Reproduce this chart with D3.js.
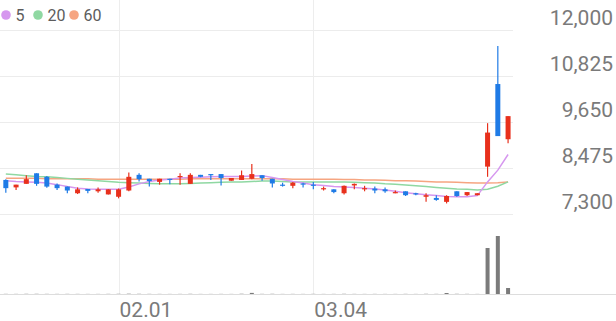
<!DOCTYPE html>
<html>
<head>
<meta charset="utf-8">
<script src="https://cdn.jsdelivr.net/npm/d3@7"></script>
<style>
  body { margin: 0; background: #fff; }
  svg { display: block; font-family: Roboto, "Noto Sans", sans-serif; }
</style>
</head>
<body>
<svg id="chart" width="616" height="321"></svg>
<script>
// trading days shown on the chart
const dates = [
  '01.17','01.18','01.19','01.22','01.23','01.24','01.25','01.26','01.29','01.30',
  '01.31','02.01','02.02','02.05','02.06','02.07','02.08','02.13','02.14','02.15',
  '02.16','02.19','02.20','02.21','02.22','02.23','02.26','02.27','02.28','02.29',
  '03.04','03.05','03.06','03.07','03.08','03.11','03.12','03.13','03.14','03.15',
  '03.18','03.19','03.20','03.21','03.22','03.25','03.26','03.27','03.28','03.29'
];

const open = [
  8170,7980,8070,8340,8250,8050,8000,7830,7940,7880,
  7800,7740,7900,8300,8200,8120,8200,8240,8070,8300,
  8320,8320,8150,8170,8200,8290,8200,8050,8020,8080,
  8050,7930,7930,7830,8030,7930,7950,7930,7830,7880,
  7830,7740,7710,7610,7880,7780,7780,8510,10620,9210
];
const high = [
  8190,8050,8290,8340,8270,8080,8000,7980,7940,7980,
  7930,7950,8360,8340,8200,8200,8200,8340,8340,8300,
  8320,8320,8220,8410,8580,8290,8200,8100,8120,8100,
  8120,8000,7930,8030,8080,8020,8000,7980,7900,7880,
  7840,7830,7780,7780,7880,7860,7830,9620,11590,9800
];
const low = [
  7840,7910,8070,8020,7970,7910,7830,7810,7830,7840,
  7800,7700,7880,8130,8000,8050,8060,8050,8070,8240,
  8170,8030,8150,8170,8190,8150,7980,8000,7960,7980,
  7930,7900,7830,7800,7930,7880,7830,7840,7830,7760,
  7780,7610,7640,7570,7740,7760,7780,8250,9290,9110
];
const close = [
  7960,8050,8190,8070,8000,7960,7900,7930,7890,7930,
  7930,7930,8250,8190,8140,8200,8190,8270,8300,8250,
  8290,8220,8220,8290,8320,8220,8080,8020,8100,8050,
  8020,7960,7860,8020,8070,7960,7900,7880,7860,7780,
  7800,7780,7660,7760,7760,7860,7830,9380,9290,9800
];
// volume, thousand shares
const volume = [
  15,12,20,20,15,12,15,12,10,10,
  15,20,30,20,15,12,10,12,20,10,
  10,12,10,25,110,15,20,10,12,10,
  15,10,12,20,12,10,12,10,10,15,
  10,20,15,100,20,15,10,4600,5800,600
];

// moving averages
const ma5 = [
  8150,8130,8120,8110,8090,8050,8000,7960,7940,7930,
  7930,7930,7990,8070,8130,8170,8190,8220,8230,8240,
  8250,8260,8260,8260,8270,8280,8230,8180,8130,8090,
  8050,8030,8000,7990,7980,7960,7940,7910,7880,7840,
  7820,7790,7770,7750,7740,7740,7770,8120,8420,8820
];
const ma20 = [
  8320,8300,8280,8260,8250,8230,8210,8190,8170,8150,
  8130,8110,8100,8090,8080,8070,8070,8070,8080,8090,
  8100,8110,8120,8120,8130,8140,8140,8130,8120,8120,
  8120,8120,8120,8120,8110,8100,8090,8070,8060,8040,
  8020,8000,7980,7960,7940,7930,7910,7930,8010,8120
];
const ma60 = [
  8210,8210,8210,8210,8200,8200,8200,8200,8200,8190,
  8190,8190,8190,8190,8190,8190,8190,8190,8200,8200,
  8200,8200,8200,8200,8200,8200,8200,8200,8190,8190,
  8190,8190,8190,8180,8180,8170,8170,8160,8150,8150,
  8140,8130,8120,8120,8110,8100,8090,8090,8100,8120
];

const priceTicks = [12000, 10825, 9650, 8475, 7300];
const dateTicks = ['02.01', '03.04'];
const legendItems = [
  { label: '5',  values: ma5,  colour: '#d697ef' },
  { label: '20', values: ma20, colour: '#8fd8a2' },
  { label: '60', values: ma60, colour: '#f6a581' }
];

const UP = '#e8301c';
const DOWN = '#1f7be6';

const svg = d3.select('#chart');
const plotRight = 513;

const x = d3.scaleBand().domain(dates).range([0.7, 513.2]);
const cx = d => x(d) + x.bandwidth() / 2;
const y = d3.scaleLinear().domain([7300, 12000]).range([214, 30]);
const yVol = d3.scaleLinear().domain([0, 8000]).range([294, 214]);

// grid
const grid = svg.append('g');
grid.selectAll('.hgrid').data(priceTicks).join('line')
  .attr('x1', 0).attr('x2', plotRight)
  .attr('y1', d => Math.round(y(d)) + 0.5).attr('y2', d => Math.round(y(d)) + 0.5)
  .attr('stroke', '#ececec');
grid.selectAll('.vgrid').data(dateTicks).join('line')
  .attr('x1', d => Math.round(cx(d)) + 0.5).attr('x2', d => Math.round(cx(d)) + 0.5)
  .attr('y1', 0).attr('y2', 294)
  .attr('stroke', '#ededed');
grid.append('line')
  .attr('x1', 0).attr('x2', 616)
  .attr('y1', 294.5).attr('y2', 294.5)
  .attr('stroke', '#dddddd');

// price labels sit just above their grid line
svg.append('g').selectAll('text').data(priceTicks).join('text')
  .attr('x', 613)
  .attr('y', d => y(d) - 5)
  .attr('text-anchor', 'end')
  .attr('font-size', 21)
  .attr('fill', '#7a7a7a')
  .text(d => d3.format(',')(d));

// date labels
svg.append('g').selectAll('text').data(dateTicks).join('text')
  .attr('x', d => cx(d) + 1)
  .attr('y', 317)
  .attr('font-size', 21)
  .attr('fill', '#7a7a7a')
  .text(d => d);

// moving average lines (under candles)
const line = d3.line().x((d, i) => cx(dates[i])).y(d => y(d));
svg.append('g').selectAll('path').data(legendItems.slice().reverse()).join('path')
  .attr('d', d => line(d.values))
  .attr('fill', 'none')
  .attr('stroke', d => d.colour)
  .attr('stroke-width', 1.5);

// volume bars
const volW = 4;
svg.append('g').selectAll('rect').data(volume).join('rect')
  .attr('x', (d, i) => cx(dates[i]) - volW / 2)
  .attr('width', volW)
  .attr('y', d => yVol(d))
  .attr('height', d => 294 - yVol(d))
  .attr('fill', '#7b7b7b');

// candles
const bodyW = 5;
const candles = svg.append('g').selectAll('g').data(dates).join('g')
  .attr('fill', (d, i) => close[i] >= open[i] ? UP : DOWN)
  .attr('stroke', (d, i) => close[i] >= open[i] ? UP : DOWN);
candles.append('line')
  .attr('x1', d => cx(d)).attr('x2', d => cx(d))
  .attr('y1', (d, i) => y(high[i])).attr('y2', (d, i) => y(low[i]))
  .attr('stroke-width', 1.2);
candles.append('rect')
  .attr('x', d => cx(d) - bodyW / 2)
  .attr('width', bodyW)
  .attr('y', (d, i) => y(Math.max(open[i], close[i])))
  .attr('height', (d, i) => Math.max(1.2, Math.abs(y(open[i]) - y(close[i]))))
  .attr('stroke', 'none');

// legend
const legend = svg.append('g').selectAll('g').data(legendItems).join('g')
  .attr('transform', (d, i) => `translate(${[6, 38, 74][i]},15)`);
legend.append('circle').attr('r', 4.8).attr('fill', d => d.colour);
legend.append('text')
  .attr('x', 9.5).attr('y', 6)
  .attr('font-size', 16)
  .attr('fill', '#5c5c5c')
  .text(d => d.label);
</script>
</body>
</html>
